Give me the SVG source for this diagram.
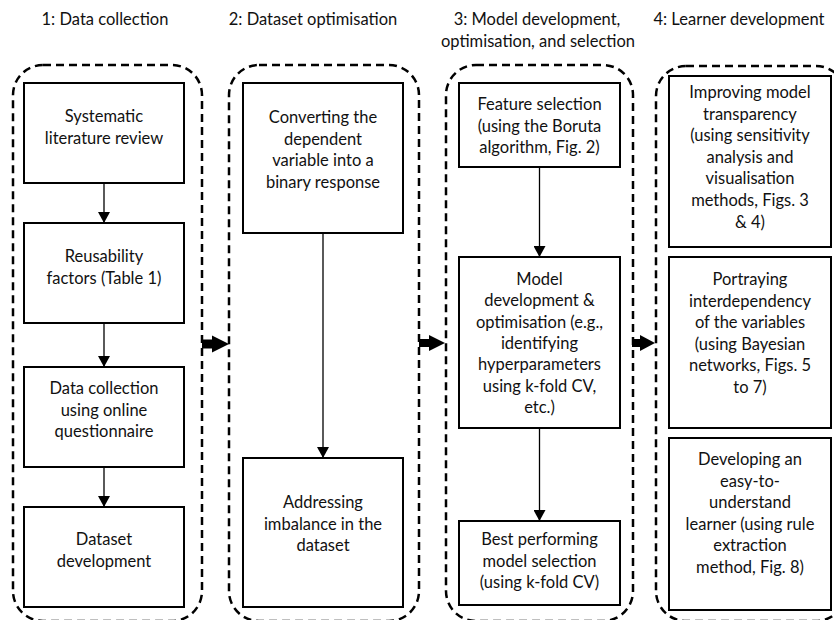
<svg xmlns="http://www.w3.org/2000/svg" width="834" height="620" viewBox="0 0 834 620">
  <defs>
    <marker id="tri" markerWidth="12" markerHeight="12" refX="11" refY="6" orient="auto" markerUnits="userSpaceOnUse">
      <path d="M0,0 L11,6 L0,12 Z" fill="#000"/>
    </marker>
    <style>
      .stage { fill: none; stroke: #000; stroke-width: 2.5; stroke-dasharray: 8 5; }
      .box { fill: #fff; stroke: #000; stroke-width: 2; }
      .lbl { font-family: Lato, "Liberation Sans", sans-serif; font-size: 16.5px; fill: #111; text-anchor: middle; }
      .link { stroke: #000; stroke-width: 1.3; fill: none; marker-end: url(#tri); }
      .big { fill: #000; }
    </style>
  </defs>
  <rect width="834" height="620" fill="#fff"/>

  <!-- stage headings -->
  <g id="headings">
    <text class="lbl" x="105" y="25">1: Data collection</text>
    <text class="lbl" x="313" y="25">2: Dataset optimisation</text>
    <text class="lbl" x="537" y="25">3: Model development,</text>
    <text class="lbl" x="538" y="47">optimisation, and selection</text>
    <text class="lbl" x="739" y="25">4: Learner development</text>
  </g>

  <!-- dashed stage frames -->
  <g id="stages">
    <rect id="stage1" class="stage" x="13" y="65" width="189" height="556" rx="30"/>
    <rect id="stage2" class="stage" x="229" y="65" width="190" height="556" rx="30"/>
    <rect id="stage3" class="stage" x="446" y="65" width="187" height="556" rx="30"/>
    <rect id="stage4" class="stage" x="656" y="66" width="190" height="555" rx="30"/>
  </g>

  <!-- connectors -->
  <g id="connectors">
    <line class="link" x1="104" y1="183" x2="104" y2="223"/>
    <line class="link" x1="104" y1="323" x2="104" y2="367"/>
    <line class="link" x1="104" y1="467" x2="104" y2="507"/>
    <line class="link" x1="323" y1="233" x2="323" y2="458"/>
    <line class="link" x1="539.5" y1="167" x2="539.5" y2="257"/>
    <line class="link" x1="539.5" y1="428" x2="539.5" y2="521"/>
    <polygon class="big" points="202,339.5 212,339.5 212,335.5 229,344 212,352.5 212,348.5 202,348.5"/>
    <polygon class="big" points="419,339 429,339 429,335 445,343 429,351 429,347 419,347"/>
    <polygon class="big" points="632,339 640,339 640,335 655,343 640,351 640,347 632,347"/>
  </g>

  <!-- stage 1 -->
  <g id="n-review">
    <rect class="box" x="24" y="83" width="160" height="100"/>
    <text class="lbl" x="104" y="122">Systematic<tspan x="104" dy="21.5">literature review</tspan></text>
  </g>
  <g id="n-factors">
    <rect class="box" x="24" y="223" width="160" height="100"/>
    <text class="lbl" x="104" y="262">Reusability<tspan x="104" dy="21.5">factors (Table 1)</tspan></text>
  </g>
  <g id="n-questionnaire">
    <rect class="box" x="24" y="367" width="160" height="100"/>
    <text class="lbl" x="104" y="394">Data collection<tspan x="104" dy="21.5">using online</tspan><tspan x="104" dy="21.5">questionnaire</tspan></text>
  </g>
  <g id="n-dataset">
    <rect class="box" x="24" y="507" width="160" height="100"/>
    <text class="lbl" x="104" y="545">Dataset<tspan x="104" dy="21.5">development</tspan></text>
  </g>

  <!-- stage 2 -->
  <g id="n-binary">
    <rect class="box" x="243" y="83" width="160" height="150"/>
    <text class="lbl" x="323" y="123">Converting the<tspan x="323" dy="21.5">dependent</tspan><tspan x="323" dy="21.5">variable into a</tspan><tspan x="323" dy="21.5">binary response</tspan></text>
  </g>
  <g id="n-imbalance">
    <rect class="box" x="243" y="458" width="160" height="149"/>
    <text class="lbl" x="323" y="508">Addressing<tspan x="323" dy="21.5">imbalance in the</tspan><tspan x="323" dy="21.5">dataset</tspan></text>
  </g>

  <!-- stage 3 -->
  <g id="n-features">
    <rect class="box" x="459" y="83" width="161" height="84"/>
    <text class="lbl" x="539.5" y="110">Feature selection<tspan x="539.5" dy="21.5">(using the Boruta</tspan><tspan x="539.5" dy="21.5">algorithm, Fig. 2)</tspan></text>
  </g>
  <g id="n-model">
    <rect class="box" x="459" y="257" width="161" height="171"/>
    <text class="lbl" x="539.5" y="285">Model<tspan x="539.5" dy="21.3">development &amp;</tspan><tspan x="539.5" dy="21.3">optimisation (e.g.,</tspan><tspan x="539.5" dy="21.3">identifying</tspan><tspan x="539.5" dy="21.3">hyperparameters</tspan><tspan x="539.5" dy="21.3">using k-fold CV,</tspan><tspan x="539.5" dy="21.3">etc.)</tspan></text>
  </g>
  <g id="n-best">
    <rect class="box" x="459" y="521" width="161" height="84"/>
    <text class="lbl" x="539.5" y="545">Best performing<tspan x="539.5" dy="21.5">model selection</tspan><tspan x="539.5" dy="21.5">(using k-fold CV)</tspan></text>
  </g>

  <!-- stage 4 -->
  <g id="n-transparency">
    <rect class="box" x="669" y="76" width="162" height="171"/>
    <text class="lbl" x="750" y="98">Improving model<tspan x="750" dy="21.6">transparency</tspan><tspan x="750" dy="21.6">(using sensitivity</tspan><tspan x="750" dy="21.6">analysis and</tspan><tspan x="750" dy="21.6">visualisation</tspan><tspan x="750" dy="21.6">methods, Figs. 3</tspan><tspan x="750" dy="21.6">&amp; 4)</tspan></text>
  </g>
  <g id="n-bayes">
    <rect class="box" x="669" y="257" width="162" height="171"/>
    <text class="lbl" x="750" y="285">Portraying<tspan x="750" dy="21.6">interdependency</tspan><tspan x="750" dy="21.6">of the variables</tspan><tspan x="750" dy="21.6">(using Bayesian</tspan><tspan x="750" dy="21.6">networks, Figs. 5</tspan><tspan x="750" dy="21.6">to 7)</tspan></text>
  </g>
  <g id="n-rules">
    <rect class="box" x="669" y="438" width="162" height="172"/>
    <text class="lbl" x="750" y="465">Developing an<tspan x="750" dy="21.6">easy-to-</tspan><tspan x="750" dy="21.6">understand</tspan><tspan x="750" dy="21.6">learner (using rule</tspan><tspan x="750" dy="21.6">extraction</tspan><tspan x="750" dy="21.6">method, Fig. 8)</tspan></text>
  </g>
</svg>
